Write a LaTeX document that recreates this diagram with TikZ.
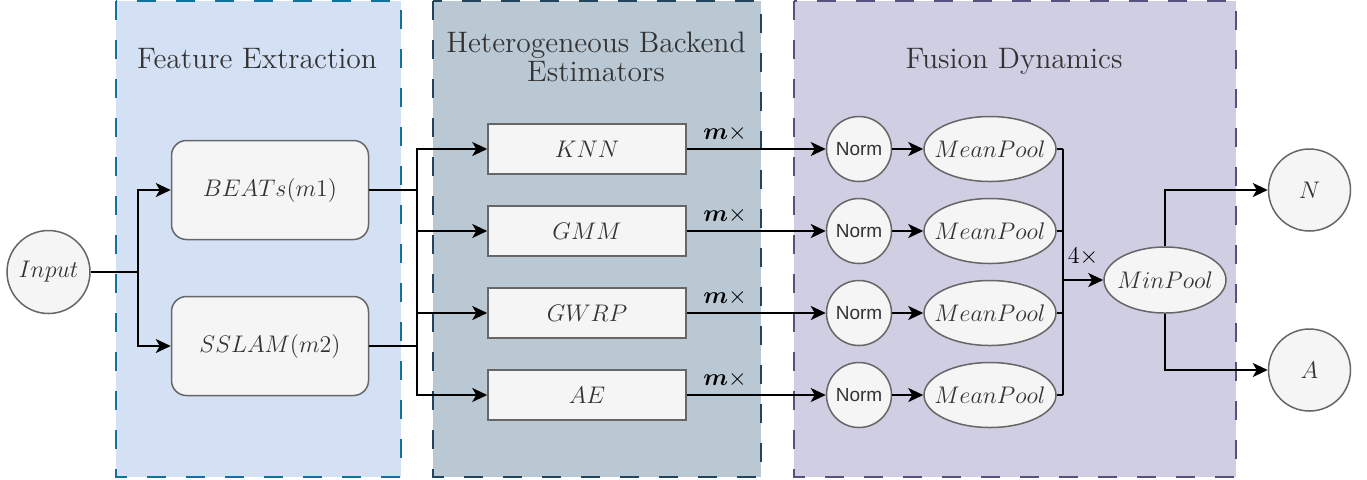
\documentclass[tikz,border=0pt]{standalone}
\usepackage{fontspec}
\usepackage{amsmath,amsbsy}
\newfontfamily\normfont{Liberation Sans}
\usetikzlibrary{arrows.meta,shapes.geometric}
\definecolor{feFill}{HTML}{D4E1F5}
\definecolor{feLine}{HTML}{10739E}
\definecolor{beFill}{HTML}{BAC8D3}
\definecolor{beLine}{HTML}{23445D}
\definecolor{fuFill}{HTML}{D0CEE2}
\definecolor{fuLine}{HTML}{56517E}
\definecolor{boxFill}{HTML}{F5F5F5}
\definecolor{boxLine}{HTML}{666666}
\definecolor{txt}{HTML}{333333}
\tikzset{
  panel/.style={line width=1pt, dash pattern=on 9.5pt off 10pt},
  title/.style={font=\fontsize{14.8}{15}\selectfont, text=txt, anchor=base, inner sep=0pt},
  mathfont/.style={font=\fontsize{12}{14}\selectfont, text=txt},
  rbox/.style={draw=boxLine, fill=boxFill, line width=0.75pt, rounded corners=7.5pt,
    minimum width=98.5pt, minimum height=49.5pt, inner sep=0pt, mathfont},
  ebox/.style={draw=boxLine, fill=boxFill, line width=0.75pt,
    minimum width=99pt, minimum height=25pt, inner sep=0pt, mathfont},
  circ/.style={draw=boxLine, fill=boxFill, line width=0.75pt, circle, inner sep=0pt, mathfont},
  normc/.style={circ, minimum size=32.5pt, font=\normfont\fontsize{9.5}{11}\selectfont},
  ell/.style={draw=boxLine, fill=boxFill, line width=0.75pt, ellipse, inner sep=0pt},
  elltext/.style={mathfont, inner sep=0pt},
  conn/.style={line width=1pt, black},
  arr/.style={conn, -{Stealth[length=7.5pt,width=7pt,inset=2pt]}},
  lbl/.style={mathfont, inner sep=0pt, text=black}
}
\begin{document}
\begin{tikzpicture}[x=0.5pt,y=-0.5pt]
\useasboundingbox (0,0) rectangle (1367,479);
% panels
\draw[panel, fill=feFill, draw=feLine] (116,1) rectangle (401,477);
\draw[panel, fill=beFill, draw=beLine] (433,1) rectangle (761,477);
\draw[panel, fill=fuFill, draw=fuLine] (794,1) rectangle (1236,477);
\node[title] (t1) at (257,68) {Feature Extraction};
\node[title] (t2a) at (596,52) {Heterogeneous Backend};
\node[title] (t2b) at (596,81) {Estimators};
\node[title] (t3) at (1014,68) {Fusion Dynamics};
% nodes
\node[circ, minimum size=41.5pt] (in) at (48.5,272) {$Input$};
\node[rbox] (beats) at (270,190) {$BEATs(m1)$};
\node[rbox] (sslam) at (270,346) {$SSLAM(m2)$};
\node[ebox] (knn) at (587,149) {$KNN$};
\node[ebox] (gmm) at (587,231) {$GMM$};
\node[ebox] (gwrp) at (587,313) {$GWRP$};
\node[ebox] (ae) at (587,395) {$AE$};
\node[normc] (n1) at (859,149) {Norm};
\node[normc] (n2) at (859,231) {Norm};
\node[normc] (n3) at (859,313) {Norm};
\node[normc] (n4) at (859,395) {Norm};
\node[ell, minimum width=66pt, minimum height=32.5pt, label={[elltext]center:$MeanPool$}] (mp1) at (990,149) {};
\node[ell, minimum width=66pt, minimum height=32.5pt, label={[elltext]center:$MeanPool$}] (mp2) at (990,231) {};
\node[ell, minimum width=66pt, minimum height=32.5pt, label={[elltext]center:$MeanPool$}] (mp3) at (990,313) {};
\node[ell, minimum width=66pt, minimum height=32.5pt, label={[elltext]center:$MeanPool$}] (mp4) at (990,395) {};
\node[ell, minimum width=61pt, minimum height=33pt, label={[elltext]center:$MinPool$}] (minp) at (1165,280) {};
\node[circ, minimum size=41pt] (nout) at (1309.5,190) {$N$};
\node[circ, minimum size=41pt] (aout) at (1309.5,370) {$A$};
% labels
\node[lbl] (l1) at (725,133) {$\boldsymbol{m}{\times}$};
\node[lbl] (l2) at (725,215) {$\boldsymbol{m}{\times}$};
\node[lbl] (l3) at (725,297) {$\boldsymbol{m}{\times}$};
\node[lbl] (l4) at (725,379) {$\boldsymbol{m}{\times}$};
\node[lbl] (l5) at (1083,257) {$4{\times}$};
% connectors
\coordinate (j1) at (138,272);
\draw[conn] (in) -- (j1);
\draw[arr] (j1) |- (beats);
\draw[arr] (j1) |- (sslam);
\coordinate (bus) at (417,272);
\draw[conn] (beats) -- (beats -| bus);
\draw[conn] (sslam) -- (sslam -| bus);
\draw[arr] (bus) |- (knn);
\draw[arr] (bus) |- (gmm);
\draw[arr] (bus) |- (gwrp);
\draw[arr] (bus) |- (ae);
\draw[arr] (knn) -- (n1);
\draw[arr] (gmm) -- (n2);
\draw[arr] (gwrp) -- (n3);
\draw[arr] (ae) -- (n4);
\draw[arr] (n1) -- (mp1);
\draw[arr] (n2) -- (mp2);
\draw[arr] (n3) -- (mp3);
\draw[arr] (n4) -- (mp4);
\coordinate (bus2) at (1063,280);
\draw[conn] (mp1) -- (mp1 -| bus2);
\draw[conn] (mp2) -- (mp2 -| bus2);
\draw[conn] (mp3) -- (mp3 -| bus2);
\draw[conn] (mp4) -- (mp4 -| bus2);
\draw[conn] (mp1 -| bus2) -- (mp4 -| bus2);
\draw[arr] (bus2) -- (minp);
\draw[arr] (minp) |- (nout);
\draw[arr] (minp) |- (aout);
\end{tikzpicture}
\end{document}
